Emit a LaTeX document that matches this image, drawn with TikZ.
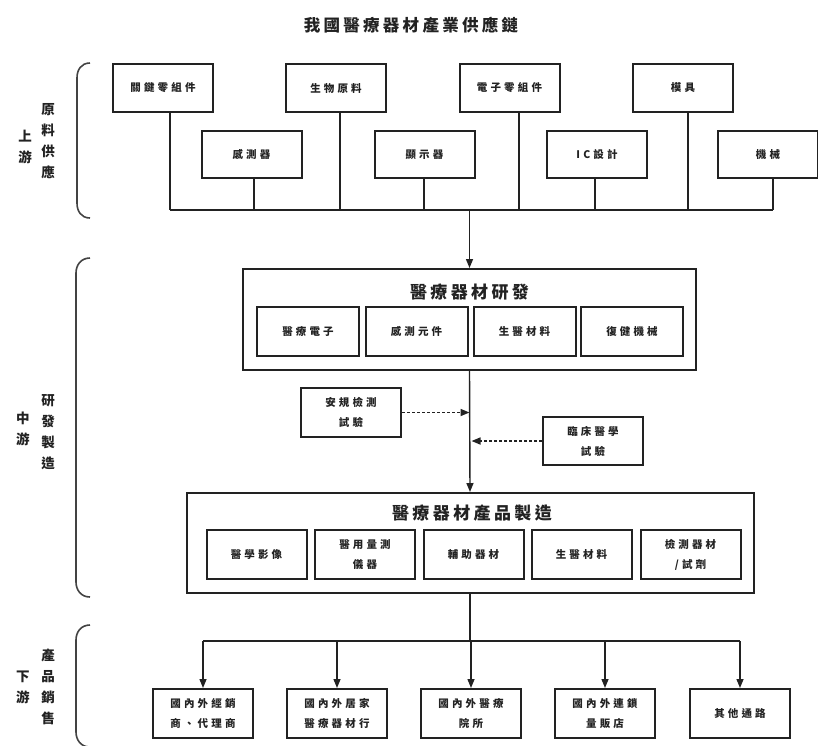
\documentclass[tikz,border=0pt]{standalone}
\usepackage{fontspec}
\newfontfamily\cjk[LetterSpace=30]{Noto Sans CJK TC}
\newfontfamily\cjkt[LetterSpace=20]{Noto Sans CJK TC}
\newfontfamily\cjkv{Noto Sans CJK TC}
\usetikzlibrary{arrows.meta}
\definecolor{ink}{HTML}{222222}
\tikzset{
  sbox/.style={draw=ink, line width=2pt, minimum width=100pt, minimum height=48pt, inner sep=0pt, align=center, text=ink, font=\cjk\bfseries\fontsize{10.5}{20}\selectfont},
  outer/.style={draw=ink, line width=2pt, inner sep=0pt},
  head/.style={text=ink, font=\cjkt\bfseries\fontsize{17}{20}\selectfont},
  conn/.style={draw=ink, line width=1.4pt},
  arr/.style={conn, -{Triangle[length=9pt,width=7pt]}},
  darr/.style={conn, line width=1.6pt, dash pattern=on 3pt off 2pt, -{Triangle[length=9pt,width=7pt]}},
  vlab/.style={text=ink, align=center, font=\cjkv\bfseries\fontsize{13.5}{21}\selectfont},
  brk/.style={draw=ink!85, line width=1.6pt}
}
\begin{document}
\begin{tikzpicture}[x=1pt,y=-1pt]
\useasboundingbox (0,0) rectangle (818,745);
% title
\node[head, font=\cjkt\bfseries\fontsize{16.5}{20}\selectfont] (title) at (411,25) {我國醫療器材產業供應鏈};
% side labels
\node[vlab] (l1a) at (25,146.5) {上\\游};
\node[vlab] (l1b) at (48,141) {原\\料\\供\\應};
\node[vlab] (l2a) at (23,429) {中\\游};
\node[vlab] (l2b) at (48,432) {研\\發\\製\\造};
\node[vlab] (l3a) at (23,687) {下\\游};
\node[vlab] (l3b) at (48,687) {產\\品\\銷\\售};
% brackets
\draw[brk] (90,63) .. controls (81,63) and (77,70) .. (77,78) -- (77,203) .. controls (77,211) and (81,218) .. (90,218);
\draw[brk] (90,258) .. controls (81,258) and (76,265) .. (76,273) -- (76,582) .. controls (76,590) and (81,597) .. (90,597);
\draw[brk] (90,625) .. controls (81,625) and (76,632) .. (76,640) -- (76,732) .. controls (76,740) and (81,747) .. (90,747);
% upstream boxes
\node[sbox] (u1) at (163,88) {關鍵零組件};
\node[sbox] (u2) at (336,88) {生物原料};
\node[sbox] (u3) at (509.5,88) {電子零組件};
\node[sbox] (u4) at (683,88) {模具};
\node[sbox, minimum height=47pt] (u5) at (251.5,154.5) {感測器};
\node[sbox, minimum height=47pt] (u6) at (424.5,154.5) {顯示器};
\node[sbox, minimum height=47pt] (u7) at (597,154.5) {IC設計};
\node[sbox, minimum height=47pt] (u8) at (768,154.5) {機械};
\coordinate (b1) at (170,210);
\coordinate (b2) at (254,210);
\coordinate (b3) at (340,210);
\coordinate (b4) at (424,210);
\coordinate (b5) at (519,210);
\coordinate (b6) at (595,210);
\coordinate (b7) at (688,210);
\coordinate (b8) at (773,210);
\draw[conn] (b1 |- u1.south) -- (b1);
\draw[conn] (b2 |- u5.south) -- (b2);
\draw[conn] (b3 |- u2.south) -- (b3);
\draw[conn] (b4 |- u6.south) -- (b4);
\draw[conn] (b5 |- u3.south) -- (b5);
\draw[conn] (b6 |- u7.south) -- (b6);
\draw[conn] (b7 |- u4.south) -- (b7);
\draw[conn] (b8 |- u8.south) -- (b8);
\draw[conn] (b1) -- (b8);
% R&D
\node[outer, minimum width=453pt, minimum height=101pt] (rd) at (469.5,319.5) {};
\node[head] (rdh) at (469.5,292) {醫療器材研發};
\node[sbox, minimum width=102pt, minimum height=49pt] (r1) at (308,331.5) {醫療電子};
\node[sbox, minimum width=102pt, minimum height=49pt] (r2) at (416.5,331.5) {感測元件};
\node[sbox, minimum width=102pt, minimum height=49pt] (r3) at (524.5,331.5) {生醫材料};
\node[sbox, minimum width=102pt, minimum height=49pt] (r4) at (632,331.5) {復健機械};
\coordinate (bm) at (rd.north |- b1);
\draw[arr] (bm) -- (rd.north);
% tests
\node[sbox, minimum height=49pt] (aj) at (351,412.5) {安規檢測\\試驗};
\node[sbox] (lc) at (593,441) {臨床醫學\\試驗};
% manufacturing
\node[outer, minimum width=567pt, minimum height=100pt] (mf) at (470,543) {};
\node[head] (mfh) at (472,513) {醫療器材產品製造};
\draw[arr] (rd.south) -- (mf.north);
\draw[darr] (aj.east) -- (aj.east -| rd.south);
\draw[darr] (lc.west) -- ([xshift=2pt]lc.west -| rd.south);
\node[sbox, minimum height=49pt] (m1) at (256.5,554.5) {醫學影像};
\node[sbox, minimum height=49pt] (m2) at (365,554.5) {醫用量測\\儀器};
\node[sbox, minimum height=49pt] (m3) at (473.5,554.5) {輔助器材};
\node[sbox, minimum height=49pt] (m4) at (581.5,554.5) {生醫材料};
\node[sbox, minimum height=49pt] (m5) at (690.5,554.5) {檢測器材\\/試劑};
% downstream
\node[sbox, minimum height=49pt] (d1) at (203,713.5) {國內外經銷\\商、代理商};
\node[sbox, minimum height=49pt] (d2) at (337,713.5) {國內外居家\\醫療器材行};
\node[sbox, minimum height=49pt] (d3) at (471,713.5) {國內外醫療\\院所};
\node[sbox, minimum height=49pt] (d4) at (605,713.5) {國內外連鎖\\量販店};
\node[sbox, minimum height=49pt] (d5) at (740,713.5) {其他通路};
\coordinate (busd) at (470,641);
\draw[conn] (mf.south) -- (busd);
\draw[conn] (d1.north |- busd) -- (d5.north |- busd);
\foreach \i in {1,2,3,4,5} { \draw[arr] (d\i.north |- busd) -- (d\i.north); }
\end{tikzpicture}
\end{document}
